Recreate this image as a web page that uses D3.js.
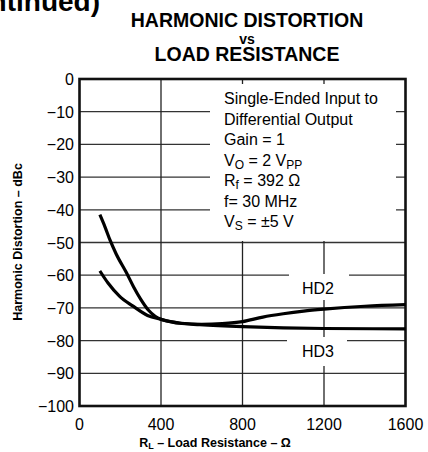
<!DOCTYPE html>
<html>
<head>
<meta charset="utf-8">
<script src="https://cdn.jsdelivr.net/npm/d3@7"></script>
<style>
  body { margin: 0; background: #fff; }
  text { font-family: "Liberation Sans", Arial, sans-serif; fill: #000; }
</style>
</head>
<body>
<div id="chart"></div>
<script>
// load resistance (ohm) and distortion (dBc)
var hd2R   = [100, 125, 150, 180, 230, 265, 300, 340, 400, 500, 600, 700, 800, 900, 1000, 1100, 1200, 1400, 1600];
var hd2Val = [-41.5, -45.2, -49.3, -53.5, -59.2, -63.5, -67.3, -70.8, -73.5, -74.7, -75, -74.8, -74.2, -72.8, -71.8, -71, -70.4, -69.5, -69];
var hd3R   = [100, 140, 196, 261, 334, 400, 490, 590, 800, 1000, 1200, 1600];
var hd3Val = [-58.7, -62.4, -66.4, -69.4, -72.3, -73.5, -74.7, -75.1, -75.7, -76.1, -76.3, -76.4];

var xTicks = [0, 400, 800, 1200, 1600];
var yTicks = [0, -10, -20, -30, -40, -50, -60, -70, -80, -90, -100];

var notes = [
  [["Single-Ended Input to"]],
  [["Differential Output"]],
  [["Gain = 1"]],
  [["V"], ["O", 1], [" = 2 V"], ["PP", 1]],
  [["R"], ["f", 1], [" = 392 \u03A9"]],
  [["f= 30 MHz"]],
  [["V"], ["S", 1], [" = \u00B15 V"]]
];

var width = 428, height = 452;
var svg = d3.select("#chart").append("svg")
  .attr("width", width)
  .attr("height", height);

var x = d3.scaleLinear().domain([0, 1600]).range([79.5, 405.5]);
var y = d3.scaleLinear().domain([-100, 0]).range([406, 79]);

// cut-off heading from the page above
svg.append("text")
  .attr("x", 100).attr("y", 11)
  .attr("text-anchor", "end")
  .attr("font-size", 28).attr("font-weight", "bold")
  .text("(continued)");

// title
var title = [["HARMONIC DISTORTION", 26.5, 19.5], ["vs", 43.5, 14], ["LOAD RESISTANCE", 60.5, 19.5]];
svg.selectAll(".title")
  .data(title)
  .enter().append("text")
  .attr("class", "title")
  .attr("x", 247)
  .attr("y", function(d) { return d[1]; })
  .attr("text-anchor", "middle")
  .attr("font-weight", "bold")
  .attr("font-size", function(d) { return d[2]; })
  .text(function(d) { return d[0]; });

// grid
svg.append("g")
  .selectAll("line")
  .data(yTicks.slice(1, -1))
  .enter().append("line")
  .attr("x1", x(0)).attr("x2", x(1600))
  .attr("y1", function(d) { return y(d); })
  .attr("y2", function(d) { return y(d); })
  .attr("stroke", "#333").attr("stroke-width", 1.3);

svg.append("g")
  .selectAll("line")
  .data(xTicks.slice(1, -1))
  .enter().append("line")
  .attr("x1", function(d) { return x(d); })
  .attr("x2", function(d) { return x(d); })
  .attr("y1", y(0)).attr("y2", y(-100))
  .attr("stroke", "#222").attr("stroke-width", 1.3);

// white boxes behind the labels
var boxes = [[210, 84, 186, 157], [289, 274, 60, 26], [287, 337, 60, 29]];
svg.selectAll(".box")
  .data(boxes)
  .enter().append("rect")
  .attr("class", "box")
  .attr("x", function(d) { return d[0]; })
  .attr("y", function(d) { return d[1]; })
  .attr("width", function(d) { return d[2]; })
  .attr("height", function(d) { return d[3]; })
  .attr("fill", "#fff");

// frame
svg.append("rect")
  .attr("x", x(0)).attr("y", y(0))
  .attr("width", x(1600) - x(0))
  .attr("height", y(-100) - y(0))
  .attr("fill", "none")
  .attr("stroke", "#111").attr("stroke-width", 2.6);

// curves
var line = d3.line()
  .x(function(d) { return x(d[0]); })
  .y(function(d) { return y(d[1]); })
  .curve(d3.curveMonotoneX);

[[hd2R, hd2Val], [hd3R, hd3Val]].forEach(function(s) {
  svg.append("path")
    .datum(d3.zip(s[0], s[1]))
    .attr("d", line)
    .attr("fill", "none")
    .attr("stroke", "#000")
    .attr("stroke-width", 3.2)
    .attr("stroke-linejoin", "round");
});

// series labels
svg.append("text").attr("x", 318).attr("y", 293.5)
  .attr("text-anchor", "middle").attr("font-size", 16).text("HD2");
svg.append("text").attr("x", 318).attr("y", 356.5)
  .attr("text-anchor", "middle").attr("font-size", 16).text("HD3");

// conditions
var nt = svg.selectAll(".note")
  .data(notes)
  .enter().append("text")
  .attr("class", "note")
  .attr("x", 224)
  .attr("y", function(d, i) { return 104 + i * 20.5; })
  .attr("font-size", 16);

nt.selectAll("tspan")
  .data(function(d) { return d; })
  .enter().append("tspan")
  .attr("font-size", function(d) { return d[1] ? 12 : 16; })
  .attr("dy", function(d, i, n) {
    var prev = i > 0 ? n[i - 1].__data__[1] : 0;
    if (d[1] && !prev) return 3;
    if (!d[1] && prev) return -3;
    return 0;
  })
  .text(function(d) { return d[0]; });

// tick labels
svg.selectAll(".ytick")
  .data(yTicks)
  .enter().append("text")
  .attr("class", "ytick")
  .attr("x", 74)
  .attr("y", function(d) { return y(d) + 6; })
  .attr("text-anchor", "end")
  .attr("font-size", 16)
  .text(function(d) { return d === 0 ? "0" : "\u2212" + Math.abs(d); });

svg.selectAll(".xtick")
  .data(xTicks)
  .enter().append("text")
  .attr("class", "xtick")
  .attr("x", function(d) { return x(d); })
  .attr("y", 430)
  .attr("text-anchor", "middle")
  .attr("font-size", 16)
  .text(function(d) { return d; });

// axis titles
svg.append("text")
  .attr("transform", "translate(22,242) rotate(-90)")
  .attr("text-anchor", "middle")
  .attr("font-size", 12.5).attr("font-weight", "bold")
  .text("Harmonic Distortion \u2013 dBc");

var xl = svg.append("text")
  .attr("x", 215).attr("y", 447)
  .attr("text-anchor", "middle")
  .attr("font-size", 12.5).attr("font-weight", "bold");
xl.append("tspan").text("R");
xl.append("tspan").attr("font-size", 9).attr("dy", 2).text("L");
xl.append("tspan").attr("dy", -2).text("  \u2013 Load Resistance \u2013 \u03A9");
</script>
</body>
</html>
